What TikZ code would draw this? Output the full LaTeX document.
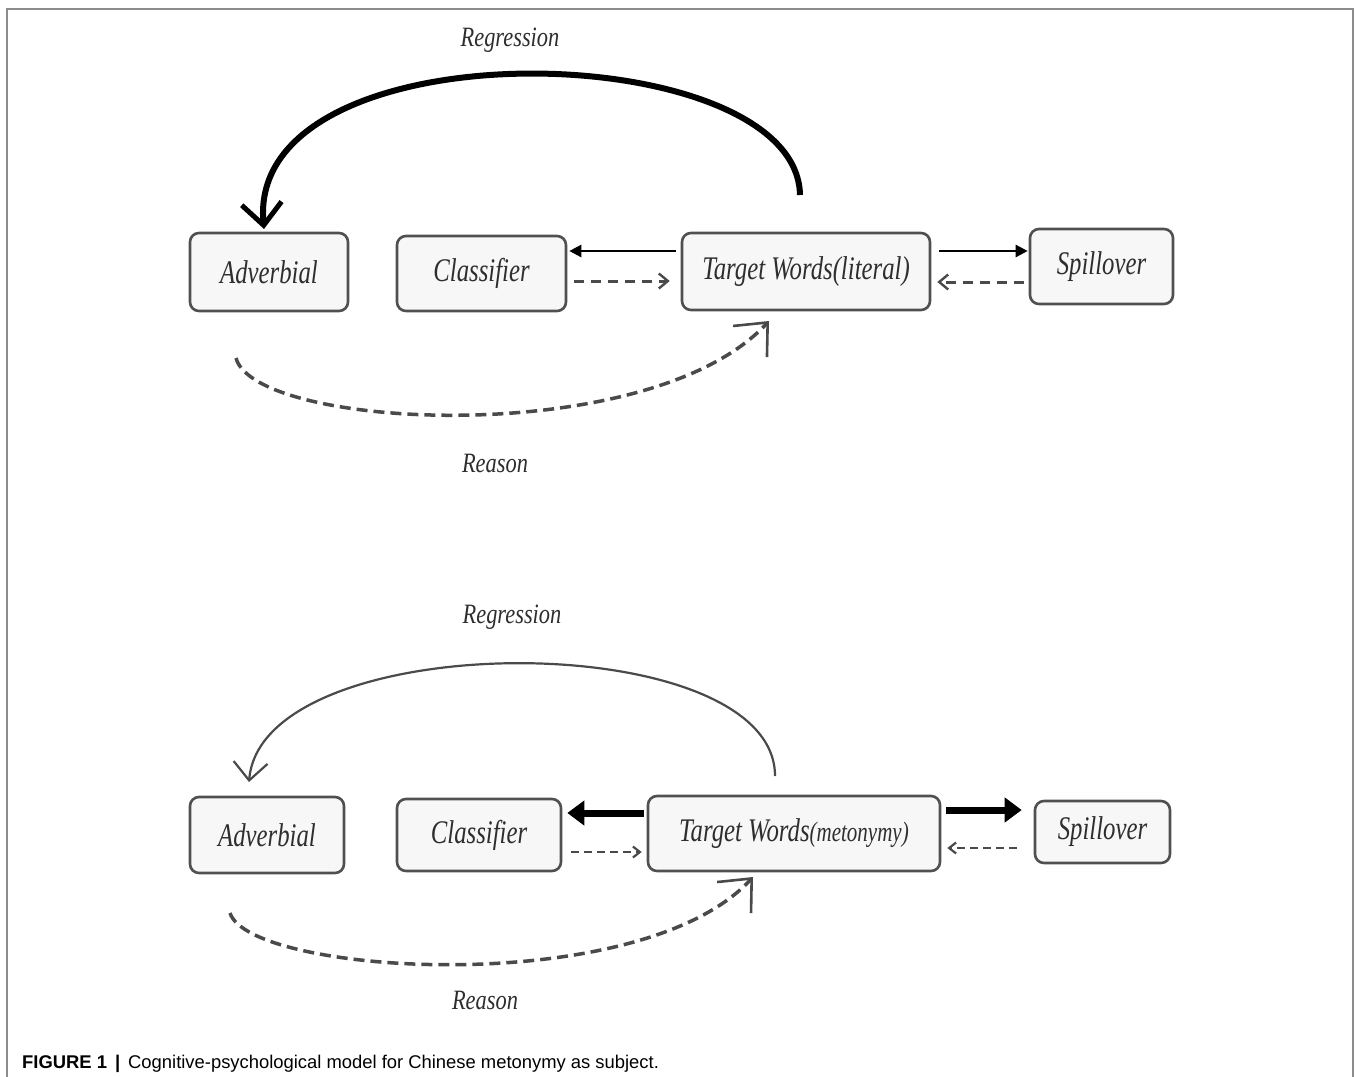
\documentclass[tikz,border=0pt]{standalone}
\usepackage{fontspec}
\setmainfont{Liberation Serif}
\setsansfont{Liberation Sans}
\usetikzlibrary{arrows.meta,calc}
\definecolor{boxfill}{HTML}{F6F7F6}
\definecolor{boxline}{HTML}{505050}
\definecolor{txt}{HTML}{2E2E2E}
\definecolor{dashc}{HTML}{4A4A4A}
\definecolor{framec}{HTML}{8C8C8C}
\newcommand{\narrowtxt}[1]{\scalebox{0.75}[1]{#1}}
\tikzset{
  wbox/.style={draw=boxline, line width=2.6pt, rounded corners=9pt, fill=boxfill,
    inner sep=0pt, text=txt, font=\fontsize{33}{36}\selectfont\itshape},
  lbl/.style={inner sep=0pt, text=txt, font=\fontsize{28}{32}\selectfont\itshape},
  thinarr/.style={line width=2.4pt, black, -{Triangle[length=12pt,width=12pt]}},
  thickarr/.style={line width=7pt, black, -{Triangle[length=17pt,width=24pt]}},
  dasharrA/.style={line width=3pt, dashc, dash pattern=on 10pt off 7pt,
    -{Straight Barb[length=9pt,width=15pt,line width=2.4pt]}},
  dasharrB/.style={line width=2.6pt, dashc, dash pattern=on 8pt off 5pt,
    -{Straight Barb[length=7pt,width=11pt,line width=2.2pt]}},
  reasonarr/.style={line width=3.5pt, dashc, dash pattern=on 11pt off 6pt,
    -{Straight Barb[length=26pt,width=46pt,line width=2.6pt]}},
}
\begin{document}
\begin{tikzpicture}[x=1pt,y=-1pt]
\useasboundingbox (0,0) rectangle (1356,1076);
\fill[white] (0,0) rectangle (1356,1076);
\draw[framec, line width=2pt] (7,1080) -- (7,9) -- (1353,9) -- (1353,1080);

% ---------- top diagram ----------
\node[wbox, minimum width=158pt, minimum height=78pt] (adv1) at (269,272) {\narrowtxt{Adverbial}};
\node[wbox, minimum width=169pt, minimum height=75pt] (cls1) at (481.5,273.5) {\narrowtxt{Classifier}};
\node[wbox, minimum width=248pt, minimum height=77pt] (tw1) at (806,271.5) {\narrowtxt{Target Words(literal)}};
\node[wbox, minimum width=143pt, minimum height=75pt] (sp1) at (1101.5,266.5) {\narrowtxt{Spillover}};

\node[lbl] (reg1) at (510,40) {\scalebox{0.8}[1]{Regression}};
\node[lbl] (rea1) at (495,463) {\scalebox{0.8}[1]{Reason}};

\draw[thinarr] ($(tw1.west)+(-5,-20.5)$) -- ($(cls1.east)+(2,-22.5)$);
\draw[dasharrA] ($(cls1.east)+(7,7.5)$) -- ($(tw1.west)+(-11,9.5)$);
\draw[thinarr] ($(tw1.east)+(8,-20.5)$) -- ($(sp1.west)+(-1,-15.5)$);
\draw[dasharrA] ($(sp1.west)+(-5,15.5)$) -- ($(tw1.east)+(6,10.5)$);

\coordinate (r1s) at (800,195);
\coordinate (r1e) at (264,229);
\draw[line width=6pt, black, -{Straight Barb[length=22pt,width=40pt,line width=5pt]}]
  (r1s) .. controls (797,35) and (245,22) .. (r1e);

\coordinate (q1s) at (236,358);
\coordinate (q1e) at (769,321);
\draw[reasonarr] (q1s) .. controls (255,430) and (650,450) .. (q1e);

% ---------- bottom diagram ----------
\node[wbox, minimum width=154pt, minimum height=76pt] (adv2) at (267,835) {\narrowtxt{Adverbial}};
\node[wbox, minimum width=164pt, minimum height=72pt] (cls2) at (479,835) {\narrowtxt{Classifier}};
\node[wbox, minimum width=292pt, minimum height=75pt] (tw2) at (794,833.5) {\narrowtxt{Target Words{\fontsize{28}{30}\selectfont(metonymy)}}};
\node[wbox, minimum width=135pt, minimum height=62pt] (sp2) at (1102.5,832) {\narrowtxt{Spillover}};

\node[lbl] (reg2) at (512,617) {\scalebox{0.8}[1]{Regression}};
\node[lbl] (rea2) at (485,1000) {\scalebox{0.8}[1]{Reason}};

\draw[thickarr] ($(tw2.west)+(-3,-20.5)$) -- ($(cls2.east)+(5,-22)$);
\draw[dasharrB] ($(cls2.east)+(9,17)$) -- ($(tw2.west)+(-5,18.5)$);
\draw[thickarr] ($(tw2.east)+(5,-23.5)$) -- ($(sp2.west)+(-12,-22)$);
\draw[dasharrB] ($(sp2.west)+(-17,16)$) -- ($(tw2.east)+(6,14.5)$);

\coordinate (r2s) at (775,776);
\coordinate (r2e) at (249,782);
\draw[line width=2.2pt, dashc, -{Straight Barb[length=18pt,width=34pt,line width=2.2pt]}]
  (r2s) .. controls (775,625) and (262,625) .. (r2e);

\coordinate (q2s) at (230,913);
\coordinate (q2e) at (753,877);
\draw[reasonarr] (q2s) .. controls (250,975) and (640,1000) .. (q2e);

% ---------- caption ----------
\node[anchor=base west, inner sep=0pt, font=\sffamily\fontsize{18.4}{20}\selectfont] (cap) at (22,1068)
  {\textbf{FIGURE 1}\hspace{8pt}\textbf{|}\hspace{8pt}Cognitive-psychological model for Chinese metonymy as subject.};
\end{tikzpicture}
\end{document}
